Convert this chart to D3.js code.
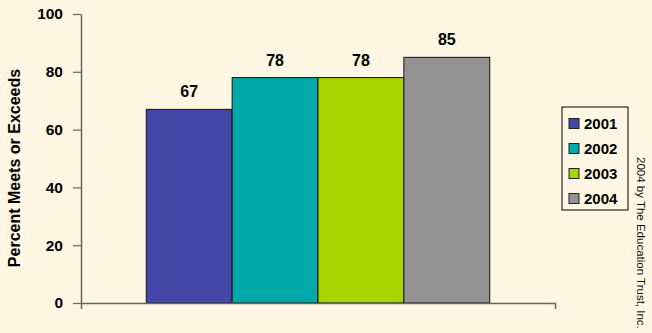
<!DOCTYPE html>
<html><head><meta charset="utf-8">
<script src="https://cdn.jsdelivr.net/npm/d3@7"></script>
<style>
html,body{margin:0;padding:0;background:#FFF7E3;}
svg{display:block;}
text{font-family:Arial,"Liberation Sans",sans-serif;}
</style></head>
<body>
<script>
const years = ["2001","2002","2003","2004"];
const values = [67,78,78,85];
const colors = ["#4447A8","#00A8A8","#A8D400","#939393"];
const yTicks = [0,20,40,60,80,100];
const yLabel = "Percent Meets or Exceeds";
const credit = "2004 by The Education Trust, Inc.";

const W=652,H=333;
const svg=d3.select("body").append("svg").attr("width",W).attr("height",H);
svg.append("rect").attr("width",W).attr("height",H).attr("fill","#FFF7E3");

const plotL=81, plotR=555, plotT=14, plotB=303;
const y=d3.scaleLinear().domain([0,100]).range([plotB,plotT]);
const x0=d3.scaleBand().domain(["g"]).range([plotL,plotR]).paddingOuter(0.19).paddingInner(0);
const x=d3.scaleBand().domain(years).range([x0("g"), x0("g")+x0.bandwidth()]).padding(0);

// bars
svg.selectAll("rect.bar").data(years).join("rect").attr("class","bar")
 .attr("x",d=>x(d)).attr("y",(d,i)=>y(values[i]))
 .attr("width",x.bandwidth()).attr("height",(d,i)=>y(0)-y(values[i]))
 .attr("fill",(d,i)=>colors[i]).attr("stroke","#111").attr("stroke-width",1);

// value labels
svg.selectAll("text.val").data(years).join("text").attr("class","val")
 .attr("x",d=>x(d)+x.bandwidth()/2).attr("y",(d,i)=>y(values[i])-12)
 .attr("text-anchor","middle").attr("font-size",16).attr("font-weight","bold")
 .text((d,i)=>values[i]);

// y axis
const ya=svg.append("g").attr("transform",`translate(${plotL},0)`)
 .call(d3.axisLeft(y).tickValues(yTicks).tickSize(8).tickPadding(10).tickSizeOuter(0));
ya.select(".domain").attr("stroke","#666").attr("stroke-width",1.5);
ya.selectAll(".tick line").attr("stroke","#666").attr("stroke-width",1.2);
ya.selectAll(".tick text").attr("font-size",15.5).attr("font-weight","bold").attr("fill","#000")
 .attr("font-family","Arial, 'Liberation Sans', sans-serif");

// x axis
const xa=svg.append("g").attr("transform",`translate(0,${plotB})`)
 .call(d3.axisBottom(x0).tickValues([]).tickSizeOuter(6));
xa.select(".domain").attr("stroke","#666").attr("stroke-width",1.5);

// y label
svg.append("text").attr("transform",`translate(20,168) rotate(-90)`)
 .attr("text-anchor","middle").attr("font-size",16).attr("font-weight","bold").text(yLabel);

// legend
const lg=svg.append("g").attr("transform","translate(562,107)");
lg.append("rect").attr("width",66).attr("height",103).attr("fill","none").attr("stroke","#000").attr("stroke-width",1);
const ly=d3.scalePoint().domain(years).range([16.5,91.5]);
years.forEach((yr,i)=>{
  lg.append("rect").attr("x",7).attr("y",ly(yr)-5).attr("width",10).attr("height",10)
    .attr("fill",colors[i]).attr("stroke","#222").attr("stroke-width",1);
  lg.append("text").attr("x",22).attr("y",ly(yr)+5.5).attr("font-size",15).attr("font-weight","bold").text(yr);
});

// credit
svg.append("text").attr("transform","translate(637,157) rotate(90)")
 .attr("font-size",11.5).attr("fill","#111").text(credit);
</script>
</body></html>
